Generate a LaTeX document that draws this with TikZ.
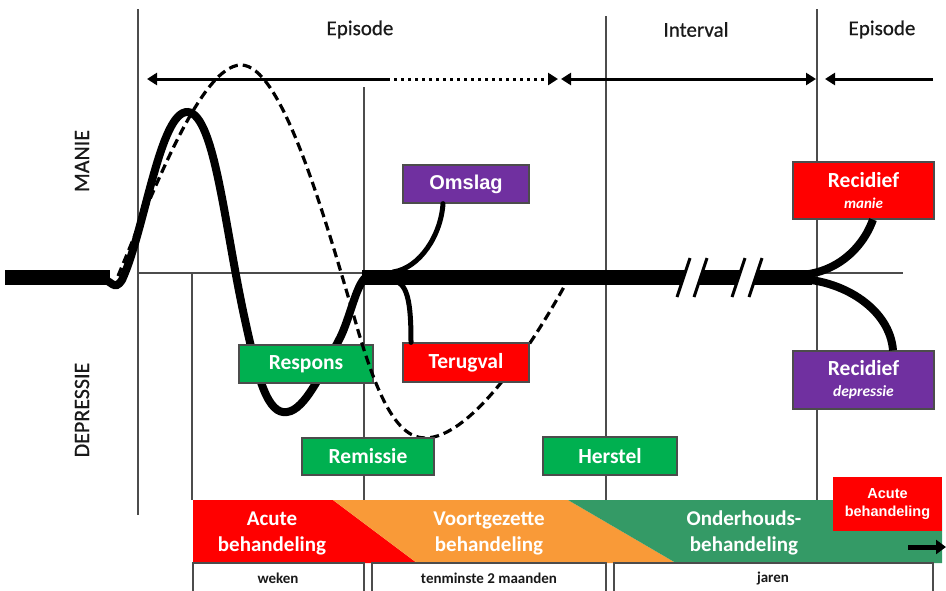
\documentclass[tikz,border=0pt]{standalone}
\usepackage{fontspec}
\setmainfont{Carlito}
\newfontfamily\arialf{Liberation Sans}
\newfontfamily\medf[FakeBold=0.6]{Carlito}
\usetikzlibrary{arrows.meta}
\definecolor{cgreen}{HTML}{00B050}
\definecolor{cred}{HTML}{FF0000}
\definecolor{cpurple}{HTML}{7030A0}
\definecolor{corange}{HTML}{F99A38}
\definecolor{cdkgreen}{HTML}{349A66}
\tikzset{
  vline/.style={draw=black!70, line width=1.2pt},
  toplbl/.style={font=\medf\fontsize{21}{25}\selectfont, text=black!90},
  sidelbl/.style={font=\medf\fontsize{22}{25}\selectfont, text=black!90, rotate=90},
  box/.style={draw=black!70, line width=1.2pt, inner sep=0pt, text=white, align=center, font=\bfseries\fontsize{21.5}{24}\selectfont},
  arr/.style={line width=3pt, -{Triangle[length=10pt,width=12pt]}},
  bartext/.style={text=white, align=center, font=\bfseries\fontsize{21}{26}\selectfont},
  dur/.style={font=\bfseries\fontsize{15}{16}\selectfont, text=black!90},
  durbox/.style={draw=black!70, line width=1.2pt},
  thickline/.style={line width=15pt},
  curve/.style={line width=8pt, line cap=round},
  dashcurve/.style={line width=3.2pt, dash pattern=on 9pt off 5pt},
  branch/.style={line width=5pt, line cap=round},
}
\begin{document}
\begin{tikzpicture}[x=1pt,y=-1pt]
\useasboundingbox (0,0) rectangle (946,590);
\begin{scope}
\clip (0,0) rectangle (946,590);
% thin vertical and horizontal lines
\draw[vline] (138,9) -- (138,515);
\draw[vline] (192,273) -- (192,500);
\draw[vline] (364,87) -- (364,500);
\draw[vline] (606,16) -- (606,500);
\draw[vline] (817,9) -- (817,500);
\draw[vline] (138,273) -- (903,273);

% top labels
\node[toplbl] (ep1) at (360,29.5) {Episode};
\node[toplbl] (int) at (696,29.5) {Interval};
\node[toplbl] (ep2) at (882,29.5) {Episode};
\node[sidelbl] (manie) at (82,161) {MANIE};
\node[sidelbl] (depr) at (82,410) {DEPRESSIE};

% arrows
\coordinate (a0) at (147,79);
\coordinate (a1) at (387,79);
\coordinate (a2) at (558,79);
\coordinate (a3) at (561,79);
\coordinate (a4) at (816,79);
\coordinate (a5) at (825,79);
\coordinate (a6) at (933,79);
\draw[arr] (a1) -- (a0);
\draw[arr, dash pattern=on 3pt off 4pt] (a1) -- (a2);
\draw[line width=3pt, {Triangle[length=10pt,width=12pt]}-{Triangle[length=10pt,width=12pt]}] (a3) -- (a4);
\draw[arr] (a6) -- (a5);

% baseline
\draw[thickline] (5,277) -- (110,277);
\draw[thickline] (362,277) -- (812,277);
% break marks
\fill[white] (686.5,268) -- (703.5,268) -- (697.5,287) -- (680.5,287) -- cycle;
\fill[white] (741.5,268) -- (758.5,268) -- (752.5,287) -- (735.5,287) -- cycle;
\draw[line width=3pt] (690,258) -- (677,297);
\draw[line width=3pt] (707,258) -- (694,297);
\draw[line width=3pt] (745,258) -- (732,297);
\draw[line width=3pt] (762,258) -- (749,297);

% solid curve
\draw[curve] (100,278) .. controls (112,280) and (114,292) .. (122,280)
  .. controls (145,230) and (160,110) .. (188,112)
  .. controls (215,115) and (225,230) .. (245,320)
  .. controls (258,380) and (268,415) .. (287,412)
  .. controls (305,410) and (322,372) .. (340,338)
  .. controls (350,318) and (356,285) .. (366,277);

% Respons box (below dashed line)
\node[box, fill=cgreen, minimum width=134pt, minimum height=38pt] (respons) at (306,364) {Respons};

% dashed curve
\draw[dashcurve] (118,276) .. controls (150,200) and (200,65) .. (241,65)
  .. controls (280,65) and (320,200) .. (355,320)
  .. controls (375,390) and (395,438) .. (425,438)
  .. controls (470,438) and (530,350) .. (570,276);

% boxes
\node[box, fill=cgreen, minimum width=132pt, minimum height=37pt] (remissie) at (368,456.5) {Remissie};
\node[box, fill=cgreen, minimum width=134pt, minimum height=38pt] (herstel) at (610,456) {Herstel};
\node[box, fill=cpurple, minimum width=126pt, minimum height=38pt, font=\arialf\bfseries\fontsize{20}{24}\selectfont] (omslag) at (466,184) {Omslag};
\node[box, fill=cred, minimum width=126pt, minimum height=39pt] (terugval) at (466,362.5) {Terugval};
\node[box, fill=cred, minimum width=141pt, minimum height=57pt] (recm) at (863.5,190.5) {Recidief\\[-3pt]{\itshape\fontsize{15}{16}\selectfont manie}};
\node[box, fill=cpurple, minimum width=141pt, minimum height=58pt] (recd) at (863.5,380) {Recidief\\[-3pt]{\itshape\fontsize{15.5}{16}\selectfont depressie}};

% branches
\coordinate (bo) at (393,272);
\coordinate (bt) at (398,282);
\draw[branch] (bo) .. controls (420,268) and (441,235) .. ([xshift=-23pt]omslag.south);
\draw[branch] (bt) .. controls (409,288) and (411,310) .. ([xshift=-55pt]terugval.north);
\coordinate (fu) at (800,275);
\coordinate (fd) at (800,279);
\draw[curve, line cap=butt] (fu) .. controls (835,273) and (862,250) .. ([xshift=9.5pt]recm.south);
\draw[curve, line cap=butt] (fd) .. controls (845,281) and (890,310) .. ([xshift=29.5pt]recd.north);

% bottom bar
\fill[cred] (193,500) -- (333,500) -- (417,563) -- (193,563) -- cycle;
\fill[corange] (333,500) -- (568,500) -- (676,563) -- (417,563) -- cycle;
\fill[cdkgreen] (568,500) -- (942,500) -- (942,563) -- (676,563) -- cycle;
\node[bartext] (acute) at (272,533) {Acute\\behandeling};
\node[bartext] (voort) at (489,533) {Voortgezette\\behandeling};
\node[bartext] (onder) at (744,533) {Onderhouds-\\behandeling};
\node[fill=cred, minimum width=109pt, minimum height=54pt, inner sep=0pt, text=white, align=center, font=\arialf\bfseries\fontsize{14.5}{18.5}\selectfont] (acute2) at (887.5,504) {Acute\\behandeling};
\coordinate (b1) at (908,547);
\coordinate (b2) at (946,547);
\draw[line width=5pt, -{Triangle[length=10pt,width=14pt]}] (b1) -- (b2);

% duration boxes
\draw[durbox] (193,563) rectangle (364,600);
\draw[durbox] (372,563) rectangle (606,600);
\draw[durbox] (614,563) rectangle (933,600);
\node[dur] (weken) at (278,578.5) {weken};
\node[dur] (tenm) at (489,578.5) {tenminste 2 maanden};
\node[dur] (jaren) at (773,578.5) {jaren};
\end{scope}
\end{tikzpicture}
\end{document}
